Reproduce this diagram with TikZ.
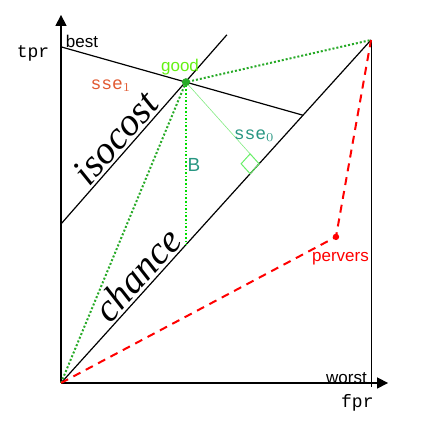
\documentclass[tikz,border=0pt]{standalone}
\usepackage{fontspec}
\newfontfamily\figfont{Liberation Sans}
\newfontfamily\serffont{Liberation Serif}
\setmonofont{Liberation Mono}
\usetikzlibrary{positioning,calc,arrows.meta}
\definecolor{dotgreen}{RGB}{40,170,40}
\definecolor{goodlime}{RGB}{100,240,20}
\definecolor{sseteal}{RGB}{40,150,130}
\definecolor{sseorange}{RGB}{225,90,50}
\definecolor{bgreen}{RGB}{0,220,0}
\definecolor{paleg}{RGB}{130,235,130}
\tikzset{axis/.style={thick, -{Triangle[length=5.5pt,width=5.5pt]}}}
\tikzset{roc/.style={draw, semithick}}
\tikzset{lbl/.style={font=\figfont\fontsize{8.5}{10}\selectfont, inner sep=1pt}}
\tikzset{ttlbl/.style={font=\ttfamily\fontsize{9}{10}\selectfont, inner sep=1pt}}
\tikzset{bigit/.style={font=\serffont\itshape\fontsize{19.5}{23}\selectfont, sloped, inner sep=1pt}}
\tikzset{gooddots/.style={draw=dotgreen, line width=1pt, densely dotted}}
\tikzset{reddash/.style={draw=red, line width=1pt, dash pattern=on 4pt off 3pt}}

\begin{document}
\begin{tikzpicture}[x=155pt, y=171.5pt]
	\useasboundingbox (-0.1968,-0.1224) rectangle (1.2290,1.1166);
	% points of the roc square
	\coordinate (O) at (0,0);
	\coordinate (T) at (1,1);
	\coordinate (best) at (0,0.98);
	\coordinate (good) at (0.403,0.877);
	\coordinate (P) at (0.887,0.426);
	\coordinate (isoA) at (0,0.4636);
	\coordinate (isoB) at (0.535,1.015);
	\coordinate (Bfoot) at (0.403,0.403);
	\coordinate (F) at (0.639,0.639);
	\coordinate (sq1) at ($(F)+(-0.029,-0.029)$);
	\coordinate (sq2) at ($(F)+(-0.058,0)$);
	\coordinate (sq3) at ($(F)+(-0.029,0.029)$);
	\coordinate (bestend) at (intersection of best--good and O--T);

	% axes
	\draw[axis] (O) -- (0,1.073);
	\draw[axis] (O) -- (1.055,0);
	\draw[thin] (T) -- (1,-0.012);

	% lines
	\path[roc] (O) -- (T)
		node[bigit, pos=0.285, above] (chancelbl) {chance};
	\path[roc] (isoA) -- (isoB)
		node[bigit, pos=0.4, above] (isolbl) {isocost};
	\draw[semithick] (best) -- (bestend);

	% good classifier
	\draw[gooddots] (O) -- (good) -- (T);
	\draw[bgreen, line width=0.8pt, densely dotted] (good) -- (Bfoot);
	\draw[paleg, line width=0.3pt] (good) -- (sq3);
	\draw[paleg!80!green, line width=0.5pt] (F) -- (sq1) -- (sq2) -- (sq3) -- cycle;
	\fill[dotgreen] (good) circle (2pt);

	% pervers classifier
	\draw[reddash] (O) -- (P) -- (T);
	\fill[red] (P) circle (1.6pt);

	% labels
	\node[ttlbl] (tpr) at (-0.0903,0.9606) {tpr};
	\node[ttlbl] (fpr) at (0.956,-0.058) {fpr};
	\node[lbl] (bestlbl) at (0.0677,0.995) {best};
	\node[lbl] (worstlbl) at (0.921,0.0146) {worst};
	\node[lbl, text=goodlime] (goodlbl) at (0.384,0.921) {good};
	\node[lbl, text=red] (perverslbl) at (0.9016,0.3635) {pervers};
	\node[lbl, text=sseteal, font=\figfont\fontsize{9.5}{10}\selectfont] (Blbl) at (0.429,0.636) {B};
	\node[ttlbl, text=sseorange] (sse1) at (0.161,0.866) {sse$_1$};
	\node[ttlbl, text=sseteal] (sse0) at (0.623,0.720) {sse$_0$};
\end{tikzpicture}
\end{document}
